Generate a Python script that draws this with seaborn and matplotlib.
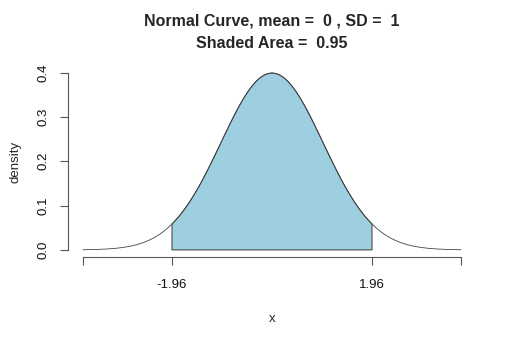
import numpy as np
import pandas as pd
import matplotlib
matplotlib.use("Agg")
import matplotlib.pyplot as plt
import seaborn as sns

# Distribution parameters and shaded interval
mean = 0
sd = 1
lower_bound = -1.96
upper_bound = 1.96
shaded_area = 0.95
x_min, x_max = -3.7, 3.7

x_ticks = [x_min, lower_bound, upper_bound, x_max]
x_tick_labels = ["", "-1.96", "1.96", ""]
y_ticks = [0.0, 0.1, 0.2, 0.3, 0.4]
y_tick_labels = ["0.0", "0.1", "0.2", "0.3", "0.4"]

xs = np.linspace(x_min, x_max, 600)
dens = np.exp(-0.5 * ((xs - mean) / sd) ** 2) / (sd * np.sqrt(2 * np.pi))
curve = pd.DataFrame({"x": xs, "density": dens})

sns.set_style("white")
plt.rcParams["font.family"] = ["Liberation Sans", "DejaVu Sans"]

fig = plt.figure(figsize=(5.12, 3.41), dpi=100)
ax = fig.add_axes([68 / 512, 1 - 257 / 341, (476 - 68) / 512, (257 - 66) / 341])

# shaded region between the bounds
inside = curve[(curve.x >= lower_bound) & (curve.x <= upper_bound)]
px = np.concatenate([[lower_bound], inside.x.values, [upper_bound]])
py = np.concatenate([[0.0], inside.density.values, [0.0]])
ax.fill(px, py, facecolor="#9ecfe1", edgecolor="#3a3a3a", linewidth=0.7, zorder=2)

sns.lineplot(data=curve, x="x", y="density", ax=ax, color="#444444",
             linewidth=0.6, zorder=3)

pad_x = 0.04 * (x_max - x_min)
ax.set_xlim(x_min - pad_x, x_max + pad_x)
ymax = dens.max()
ax.set_ylim(-0.04 * ymax, ymax * 1.04)

for s in ["top", "right"]:
    ax.spines[s].set_visible(False)
for s in ["left", "bottom"]:
    ax.spines[s].set_color("#555555")
    ax.spines[s].set_linewidth(0.8)
ax.spines["left"].set_bounds(0, 0.4)
ax.spines["bottom"].set_bounds(x_min, x_max)

ax.set_xticks(x_ticks)
ax.set_xticklabels(x_tick_labels)
ax.set_yticks(y_ticks)
ax.set_yticklabels(y_tick_labels, rotation=90, va="center")
ax.tick_params(axis="both", bottom=True, left=True, direction="out", length=5.5,
               width=0.8, color="#555555", labelsize=9.5, labelcolor="#111111")
ax.tick_params(axis="x", pad=10.5)
ax.tick_params(axis="y", pad=8)
ax.set_xlabel("x", fontsize=9.5, labelpad=15.5)
ax.set_ylabel("density", fontsize=9.5, labelpad=11)

fig.text(272 / 512, 1 - 21 / 341, "Normal Curve, mean =  %d , SD =  %d" % (mean, sd),
         ha="center", va="center", fontsize=11.5, fontweight="bold")
fig.text(272 / 512, 1 - 43 / 341, "Shaded Area =  %.2f" % shaded_area,
         ha="center", va="center", fontsize=11.5, fontweight="bold")

fig.savefig("out.png", dpi=100, facecolor="white")
